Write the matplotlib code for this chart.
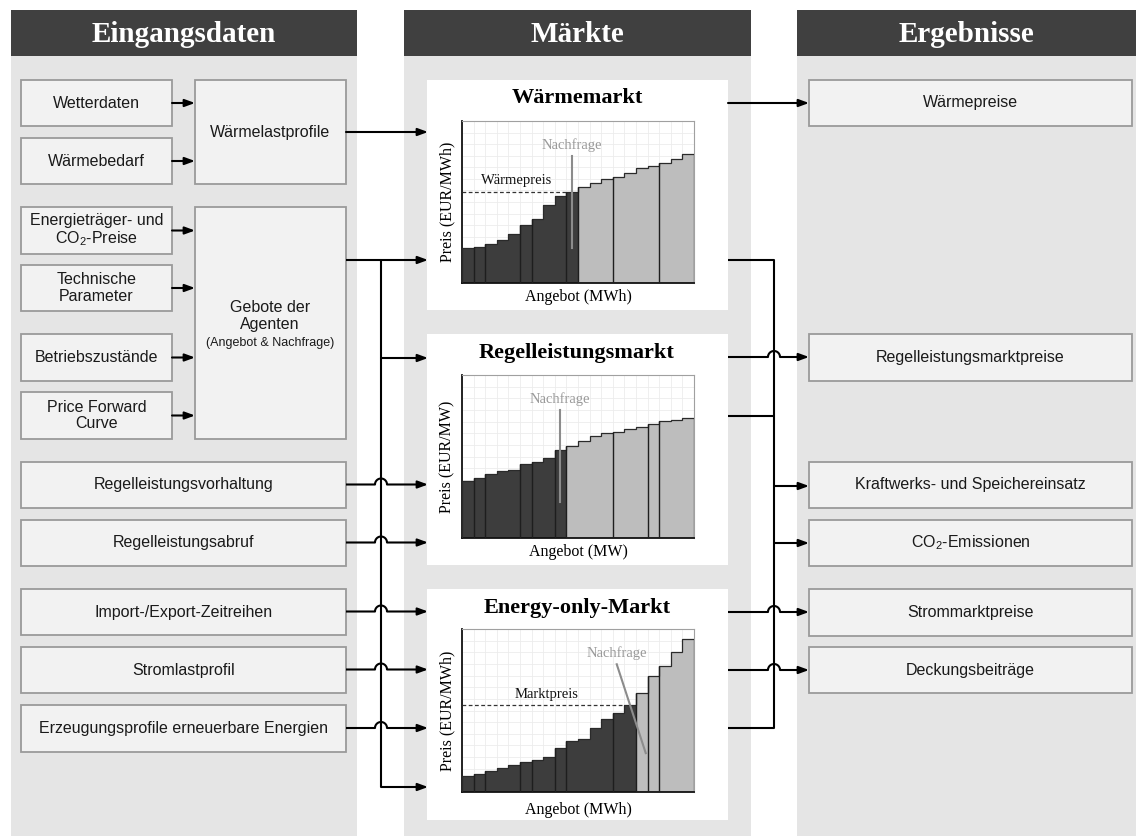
import numpy as np
import matplotlib
matplotlib.use("Agg")
import matplotlib.pyplot as plt
from matplotlib.patches import Rectangle

plt.rcParams['font.family'] = ['Liberation Sans', 'DejaVu Sans']

# --- data -------------------------------------------------------------
column_titles = ["Eingangsdaten", "Märkte", "Ergebnisse"]

input_small = ["Wetterdaten", "Wärmebedarf", "Energieträger- und\nCO$_\\mathregular{2}$-Preise",
               "Technische\nParameter", "Betriebszustände", "Price Forward\nCurve"]
input_wide = ["Regelleistungsvorhaltung", "Regelleistungsabruf", "Import-/Export-Zeitreihen",
              "Stromlastprofil", "Erzeugungsprofile erneuerbare Energien"]
results = ["Wärmepreise", "Regelleistungsmarktpreise", "Kraftwerks- und Speichereinsatz",
           "CO$_\\mathregular{2}$-Emissionen", "Strommarktpreise", "Deckungsbeiträge"]

market_titles = ["Wärmemarkt", "Regelleistungsmarkt", "Energy-only-Markt"]
market_ylabels = ["Preis (EUR/MWh)", "Preis (EUR/MW)", "Preis (EUR/MWh)"]
market_xlabels = ["Angebot (MWh)", "Angebot (MW)", "Angebot (MWh)"]

# merit order bids (price level of each supply step, grid units)
waerme_bids = [3.03, 3.11, 3.34, 3.75, 4.21, 4.99, 5.50, 6.77, 7.49, 7.87,
               8.30, 8.67, 9.02, 9.16, 9.51, 9.94, 10.09, 10.37, 10.72, 11.12]
regel_bids = [4.86, 5.14, 5.49, 5.77, 5.86, 6.34, 6.51, 6.86, 7.57, 7.94,
              8.34, 8.80, 9.00, 9.14, 9.37, 9.51, 9.83, 10.06, 10.14, 10.34]
energy_bids = [1.34, 1.51, 1.83, 2.03, 2.31, 2.54, 2.71, 3.00, 3.74, 4.34,
               4.57, 5.49, 6.29, 6.77, 7.49, 8.54, 10.00, 10.86, 12.00, 13.14]
n_accepted = [10, 9, 15]
dividers = [[1, 2, 5, 6, 9, 10, 13, 17],
            [1, 2, 5, 6, 8, 9, 13, 16, 17],
            [1, 2, 5, 6, 8, 9, 13, 15, 16, 17]]
# demand lines: (x_top, y_top, x_bottom, y_bottom)
demand = [(9.47, 10.98, 9.47, 3.03), (8.46, 11.0, 8.46, 3.09), (13.34, 10.97, 15.84, 3.34)]
price_lines = [("Wärmepreis", 7.87, 9.0, 4.73, 8.9), None, ("Marktpreis", 7.49, 14.0, 7.26, 8.4)]

# --- figure -----------------------------------------------------------
W, H = 1136, 836
fig = plt.figure(figsize=(W / 100, H / 100), dpi=100)
ax = fig.add_axes([0, 0, 1, 1])
ax.set_xlim(0, W)
ax.set_ylim(H, 0)
ax.axis('off')

col_bg = '#e5e5e5'
head_bg = '#404040'
box_fc = '#f2f2f2'
box_ec = '#9a9a9a'
serif = 'Liberation Serif'

cols = [(11, 357), (404, 751), (797, 1136)]
for (x0, x1), title in zip(cols, column_titles):
    ax.add_patch(Rectangle((x0, 56), x1 - x0, H - 56, fc=col_bg, ec='none'))
    ax.add_patch(Rectangle((x0, 10), x1 - x0, 46, fc=head_bg, ec='none'))
    ax.text((x0 + x1) / 2, 34, title, ha='center', va='center', color='white',
            family=serif, weight='bold', size=21)


def box(x0, y0, x1, y1, text, size=11.5, dy=0):
    ax.add_patch(Rectangle((x0, y0), x1 - x0, y1 - y0, fc=box_fc, ec=box_ec, lw=1.3))
    if text:
        ax.text((x0 + x1) / 2, (y0 + y1) / 2 + dy, text, ha='center', va='center',
                size=size, color='#1a1a1a', linespacing=1.15)


lw = 1.5
ahead = dict(arrowstyle='-|>,head_length=0.6,head_width=0.22', color='black', lw=lw,
             mutation_scale=10, shrinkA=0, shrinkB=0)


def arrow(x0, x1, y):
    ax.annotate('', xy=(x1, y), xytext=(x0, y), arrowprops=ahead)


def line(xs, ys):
    ax.plot(xs, ys, color='black', lw=lw, solid_capstyle='butt')


def hop_arrow(x0, x1, y, xc, r=6):
    t = np.linspace(np.pi, 0, 24)
    xs = np.concatenate([[x0], xc + r * np.cos(t)])
    ys = np.concatenate([[y], y - r * np.sin(t)])
    line(xs, ys)
    arrow(xc + r, x1, y)


# left column
small_y = [(80, 126), (138, 184), (207, 254), (265, 311), (334, 381), (392, 439)]
for (y0, y1), t in zip(small_y, input_small):
    box(21, y0, 172, y1, t)
    arrow(172, 195, (y0 + y1) / 2)
box(195, 80, 346, 184, "Wärmelastprofile")
box(195, 207, 346, 439, "")
ax.text(270, 316, "Gebote der\nAgenten", ha='center', va='center', size=11.5,
        color='#1a1a1a', linespacing=1.15)
ax.text(270, 343, "(Angebot & Nachfrage)", ha='center', va='center', size=9, color='#1a1a1a')

wide_y = [(462, 508), (520, 566), (589, 635), (647, 693), (705, 752)]
for (y0, y1), t in zip(wide_y, input_wide):
    box(21, y0, 346, y1, t)

# right column
res_y = [(80, 126), (334, 381), (462, 508), (520, 566), (589, 636), (647, 693)]
for (y0, y1), t in zip(res_y, results):
    box(809, y0, 1132, y1, t)

# market panels
panels = [(80, 310), (334, 565), (589, 820)]
for y0, y1 in panels:
    ax.add_patch(Rectangle((427, y0), 301, y1 - y0, fc='white', ec='none'))

# connectors left
arrow(346, 428, 132)
line([346, 381], [260, 260])
arrow(381, 428, 260)
line([381, 381], [260, 787])
arrow(381, 428, 358)
for (y0, y1) in wide_y:
    hop_arrow(346, 428, (y0 + y1) / 2 - 0.5, 381)
arrow(381, 428, 787)

# connectors right
arrow(728, 809, 103)
line([728, 774, 774, 728], [260, 260, 728, 728])
line([728, 774], [416, 416])
hop_arrow(728, 809, 357, 774)
arrow(774, 809, 486)
arrow(774, 809, 543)
hop_arrow(728, 809, 612, 774)
hop_arrow(728, 809, 670, 774)

# market charts
chart_rects = [(462, 121, 694, 283), (462, 375, 694, 538), (462, 629, 694, 792)]
title_y = [98, 353, 608]
xlabel_y = [297, 552, 810]
all_bids = [waerme_bids, regel_bids, energy_bids]

for i in range(3):
    l, t, r, b = chart_rects[i]
    bids = np.array(all_bids[i])
    n = len(bids)
    cax = fig.add_axes([l / W, 1 - b / H, (r - l) / W, (b - t) / H])
    colors = ['#3d3d3d'] * n_accepted[i] + ['#bdbdbd'] * (n - n_accepted[i])
    cax.bar(np.arange(n), bids, width=1, align='edge', color=colors, lw=0, zorder=2)
    cax.stairs(bids, np.arange(n + 1), color='#2a2a2a', lw=0.9, zorder=3)
    for d in dividers[i]:
        cax.vlines(d, 0, max(bids[d - 1], bids[d]), color='#1e1e1e', lw=1.0, zorder=3)
    x0, y0, x1, y1 = demand[i]
    cax.plot([x0, x1], [y0, y1], color='#8c8c8c', lw=1.5, zorder=4)
    cax.text(x0, 11.9, "Nachfrage", ha='center', va='center', family=serif,
             size=10.5, color='#9a9a9a', zorder=5)
    if price_lines[i]:
        lab, py, px, lx, ly = price_lines[i]
        cax.plot([0, px], [py, py], color='#333333', lw=0.9, ls=(0, (3, 2)), zorder=4)
        cax.text(lx, ly, lab, ha='center', va='center', family=serif, size=10.5,
                 color='#111111', zorder=5)
    cax.set_xlim(0, n)
    cax.set_ylim(0, 14)
    cax.set_xticks(np.arange(n + 1))
    cax.set_yticks(np.arange(15))
    cax.tick_params(length=0, labelbottom=False, labelleft=False)
    cax.grid(True, color='#ececec', lw=0.6)
    cax.set_axisbelow(True)
    for s in ['top', 'right']:
        cax.spines[s].set_color('#a0a0a0')
        cax.spines[s].set_linewidth(0.8)
    for s in ['left', 'bottom']:
        cax.spines[s].set_color('#111111')
        cax.spines[s].set_linewidth(1.3)

    ax.text(577, title_y[i], market_titles[i], ha='center', va='center', family=serif,
            weight='bold', size=16)
    ax.text(447, (t + b) / 2, market_ylabels[i], ha='center', va='center', family=serif,
            size=11.5, rotation=90)
    ax.text((l + r) / 2, xlabel_y[i], market_xlabels[i], ha='center', va='center',
            family=serif, size=11.5)

fig.savefig("out.png", dpi=100)
